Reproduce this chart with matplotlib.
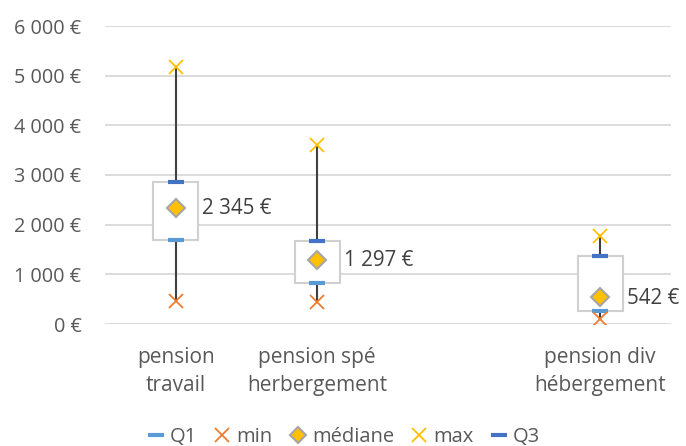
import matplotlib
matplotlib.use("Agg")
import matplotlib.pyplot as plt
from matplotlib.lines import Line2D

plt.rcParams['font.family'] = ['Open Sans', 'DejaVu Sans']

categories = ["pension\ntravail", "pension spé\nherbergement", "", "pension div\nhébergement"]
q1 = [1690, 830, None, 260]
vmin = [465, 435, None, 95]
median = [2345, 1297, None, 542]
vmax = [5180, 3600, None, 1775]
q3 = [2850, 1670, None, 1375]
median_labels = ["2 345 €", "1 297 €", None, "542 €"]
yticks = [0, 1000, 2000, 3000, 4000, 5000, 6000]
ytick_labels = ["0 €", "1 000 €", "2 000 €", "3 000 €", "4 000 €", "5 000 €", "6 000 €"]

TXT = "#595959"
C_Q1 = "#5B9BD5"
C_MIN = "#ED7D31"
C_MED = "#FFC000"
C_MAX = "#FFC000"
C_Q3 = "#4472C4"

fig = plt.figure(figsize=(6.86, 4.46), dpi=100)
ax = fig.add_axes([105/686, 122/446, 566/686, 298/446])

xs = list(range(len(categories)))
idx = [i for i in xs if q1[i] is not None]

for i in idx:
    ax.plot([i, i], [vmin[i], vmax[i]], color="#404040", lw=1.5, zorder=2)
    ax.bar(i, q3[i] - q1[i], bottom=q1[i], width=0.32, color="white",
           edgecolor="#D0D0D0", linewidth=1.5, zorder=3)

px = [xs[i] for i in idx]
ax.plot(px, [q1[i] for i in idx], ls="none", marker="_", ms=11, mew=3, color=C_Q1, zorder=5)
ax.plot(px, [q3[i] for i in idx], ls="none", marker="_", ms=11, mew=3, color=C_Q3, zorder=5)
ax.plot(px, [vmin[i] for i in idx], ls="none", marker="x", ms=10, mew=1.3, color=C_MIN, zorder=5)
ax.plot(px, [vmax[i] for i in idx], ls="none", marker="x", ms=10, mew=1.3, color=C_MAX, zorder=5)
ax.plot(px, [median[i] for i in idx], ls="none", marker="D", ms=9.5, mew=1.5,
        markerfacecolor=C_MED, markeredgecolor="#A5A5A5", zorder=6)

for i in idx:
    ax.annotate(median_labels[i], (xs[i], median[i]), xytext=(19, -1),
                textcoords="offset points", va="center", ha="left",
                fontsize=14.8, color="#404040", zorder=7)

ax.set_xlim(-0.5, len(categories) - 0.5)
ax.set_ylim(0, 6000)
ax.set_yticks(yticks)
ax.set_yticklabels(ytick_labels)
ax.set_xticks(xs)
ax.set_xticklabels(categories, linespacing=1.42)
ax.tick_params(axis="y", length=0, pad=17, labelsize=14.3, labelcolor=TXT)
ax.tick_params(axis="x", length=0, pad=16.5, labelsize=15, labelcolor=TXT)
ax.grid(axis="y", color="#D9D9D9", lw=1.3)
ax.set_axisbelow(True)
for s in ax.spines.values():
    s.set_visible(False)

handles = [
    Line2D([], [], ls="none", marker="_", ms=11, mew=3, color=C_Q1),
    Line2D([], [], ls="none", marker="x", ms=10, mew=1.3, color=C_MIN),
    Line2D([], [], ls="none", marker="D", ms=8, mew=1.5, markerfacecolor=C_MED, markeredgecolor="#A5A5A5"),
    Line2D([], [], ls="none", marker="x", ms=10, mew=1.3, color=C_MAX),
    Line2D([], [], ls="none", marker="_", ms=11, mew=3, color=C_Q3),
]
fig.legend(handles, ["Q1", "min", "médiane", "max", "Q3"], loc="center",
           bbox_to_anchor=(0.5, 1 - 437/446), ncol=5, frameon=False, fontsize=14.5,
           labelcolor=TXT, handlelength=1.0, handletextpad=0.2, columnspacing=0.75,
           borderpad=0.1)

fig.savefig("out.png", dpi=100)
